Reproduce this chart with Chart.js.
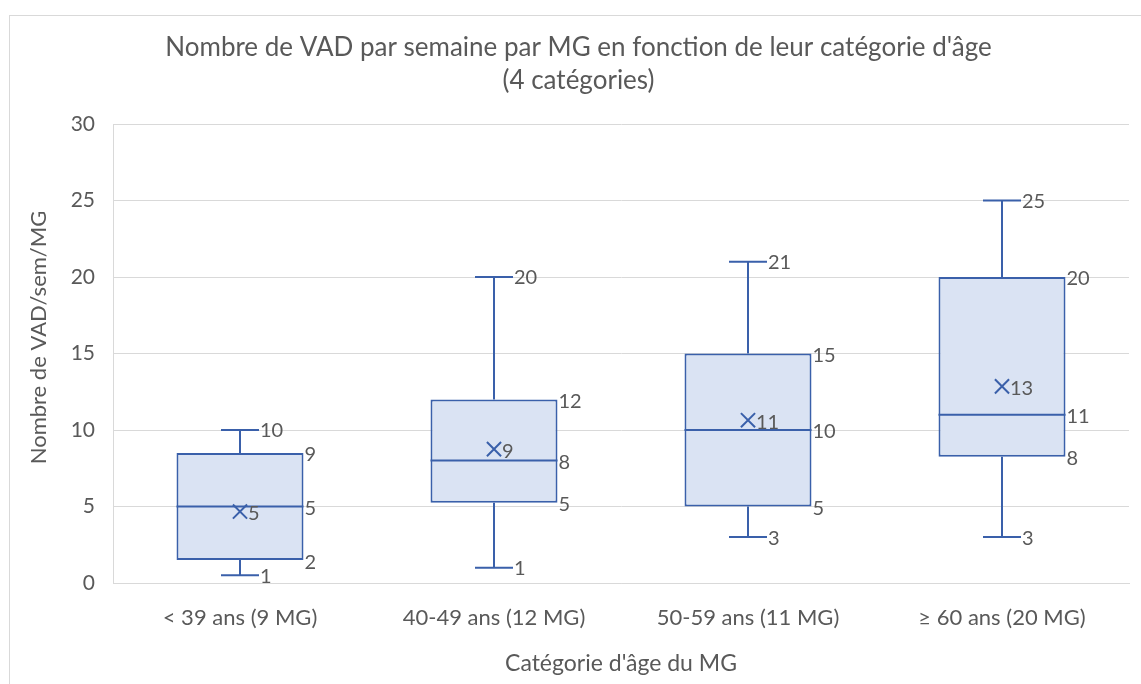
<!DOCTYPE html>
<html><head><meta charset="utf-8">
<script src="https://cdn.jsdelivr.net/npm/chart.js@4.4.0/dist/chart.umd.min.js"></script>
<style>
html,body{margin:0;padding:0;background:#fff;overflow:hidden;width:1141px;height:684px}
#frame{position:absolute;left:9px;top:15px;width:1300px;height:900px;border:1px solid #D9D9D9;box-sizing:border-box}
#wrap{position:absolute;left:0;top:0;width:1141px;height:684px}
</style></head><body>
<div id="frame"></div>
<div id="wrap"><canvas id="c" width="1141" height="684"></canvas></div>
<script>
const categories = ['< 39 ans (9 MG)', '40-49 ans (12 MG)', '50-59 ans (11 MG)', '\u2265 60 ans (20 MG)'];
const minValues    = [0.5, 1, 3, 3];
const q1Values     = [1.5, 5.25, 5, 8.25];
const medianValues = [5, 8, 10, 11];
const q3Values     = [8.5, 12, 15, 20];
const maxValues    = [10, 20, 21, 25];
const meanValues   = [4.67, 8.75, 10.64, 12.85];
const yTickValues  = [0, 5, 10, 15, 20, 25, 30];
const yAxisTitle   = 'Nombre de VAD/sem/MG';

const STROKE = '#3A60AA';
const FILL = '#DAE3F3';
const TEXT = '#595959';
const FONT = 'Lato, "Open Sans", sans-serif';

const boxPlugin = {
  id: 'boxParts',
  afterDatasetsDraw(chart) {
    const ctx = chart.ctx;
    const y = chart.scales.y;
    const meta = chart.getDatasetMeta(0);
    ctx.save();
    ctx.strokeStyle = STROKE;
    ctx.lineWidth = 2;
    meta.data.forEach((el, i) => {
      const cx = Math.round(el.x);
      const half = el.width / 2;
      const capHalf = 19;
      const pMin = y.getPixelForValue(minValues[i]);
      const pQ1 = y.getPixelForValue(q1Values[i]);
      const pMed = y.getPixelForValue(medianValues[i]);
      const pQ3 = y.getPixelForValue(q3Values[i]);
      const pMax = y.getPixelForValue(maxValues[i]);
      ctx.beginPath();
      ctx.moveTo(cx, pQ3); ctx.lineTo(cx, pMax);
      ctx.moveTo(cx, pQ1); ctx.lineTo(cx, pMin);
      ctx.moveTo(cx - capHalf, pMax); ctx.lineTo(cx + capHalf, pMax);
      ctx.moveTo(cx - capHalf, pMin); ctx.lineTo(cx + capHalf, pMin);
      ctx.moveTo(el.x - half, pMed); ctx.lineTo(el.x + half, pMed);
      ctx.stroke();

      ctx.fillStyle = TEXT;
      ctx.font = '20px ' + FONT;
      ctx.textAlign = 'left';
      ctx.textBaseline = 'middle';
      const right = el.x + half + 1;
      ctx.fillText(String(Math.round(q3Values[i])), right, pQ3 + 2);
      ctx.fillText(String(Math.round(q1Values[i])), right, pQ1 + 2);
      ctx.fillText(String(Math.round(medianValues[i])), right, pMed + 2);
      ctx.fillText(String(Math.round(maxValues[i])), cx + capHalf + 1, pMax + 1);
      ctx.fillText(String(Math.round(minValues[i])), cx + capHalf + 1, pMin + 1);
      ctx.fillText(String(Math.round(meanValues[i])), cx + 8, y.getPixelForValue(meanValues[i]) + 2);
    });
    ctx.restore();
  },
  afterDraw(chart) {
    const ctx = chart.ctx;
    const area = chart.chartArea;
    ctx.save();
    ctx.fillStyle = TEXT;
    ctx.font = '22px ' + FONT;
    ctx.textAlign = 'center';
    ctx.textBaseline = 'middle';
    ctx.translate(39, (area.top + area.bottom) / 2 - 16);
    ctx.rotate(-Math.PI / 2);
    ctx.fillText(yAxisTitle, 0, 0);
    ctx.restore();
  }
};

new Chart(document.getElementById('c'), {
  type: 'bar',
  data: {
    labels: categories,
    datasets: [
      {
        type: 'bar',
        order: 2,
        data: q1Values.map((v, i) => [v, q3Values[i]]),
        backgroundColor: FILL,
        borderColor: STROKE,
        borderWidth: 2,
        borderSkipped: false,
        barPercentage: 0.5,
        categoryPercentage: 1.0
      },
      {
        type: 'line',
        order: 1,
        data: meanValues,
        showLine: false,
        pointStyle: 'crossRot',
        pointRadius: 10,
        pointBorderWidth: 2,
        pointBorderColor: STROKE,
        borderColor: STROKE,
        backgroundColor: STROKE
      }
    ]
  },
  options: {
    responsive: false,
    devicePixelRatio: 1,
    animation: false,
    layout: { padding: { left: 22, right: 6, top: 0, bottom: 0 } },
    plugins: {
      legend: { display: false },
      tooltip: { enabled: false },
      title: {
        display: true,
        text: ['Nombre de VAD par semaine par MG en fonction de leur cat\u00e9gorie d\'\u00e2ge', '(4 cat\u00e9gories)'],
        color: TEXT,
        font: { family: FONT, size: 26, weight: 'normal', lineHeight: 33 / 26 },
        padding: { top: 31, bottom: 27 }
      }
    },
    scales: {
      x: {
        grid: { display: false, drawTicks: false },
        border: { display: true, color: '#D9D9D9', width: 1 },
        ticks: { color: TEXT, font: { family: FONT, size: 22 }, padding: 22 },
        title: {
          display: true, text: 'Cat\u00e9gorie d\'\u00e2ge du MG', color: TEXT,
          font: { family: FONT, size: 23 }, padding: { top: 0, bottom: 7 }
        },
        afterFit(s) { s.height = 101; }
      },
      y: {
        min: 0, max: 30,
        afterBuildTicks(s) { s.ticks = yTickValues.map(v => ({ value: v })); },
        grid: { color: '#D9D9D9', lineWidth: 1, drawTicks: false },
        border: { display: true, color: '#D9D9D9', width: 1 },
        ticks: { color: TEXT, font: { family: FONT, size: 21 }, padding: 18 },
        title: { display: false },
        afterFit(s) { s.width = 91; }
      }
    }
  },
  plugins: [boxPlugin]
});
</script>
</body></html>
